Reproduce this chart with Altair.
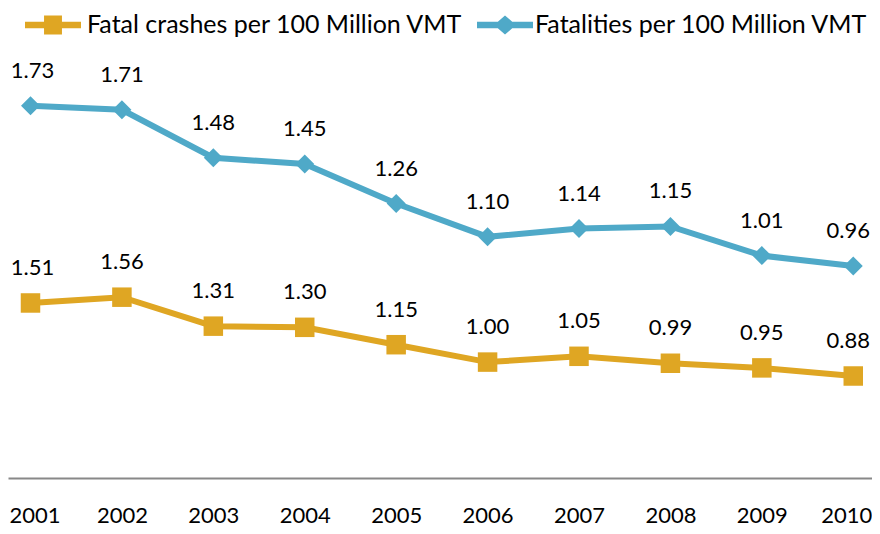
import altair as alt
import pandas as pd

years = [2001, 2002, 2003, 2004, 2005, 2006, 2007, 2008, 2009, 2010]
crashes = [1.51, 1.56, 1.31, 1.30, 1.15, 1.00, 1.05, 0.99, 0.95, 0.88]
fatalities = [1.73, 1.71, 1.48, 1.45, 1.26, 1.10, 1.14, 1.15, 1.01, 0.96]
series_names = ["Fatal crashes per 100 Million VMT", "Fatalities per 100 Million VMT"]
colors = ["#DFA623", "#4FA9C8"]

FONT = "Lato"
PLOT_W, PLOT_H = 864, 470
X_DOMAIN = [2000.754, 2010.205]

SQ_PATH = ("M-1,-0.116L1,-0.116L1,0.116L-1,0.116Z "
           "M-0.32,-0.34L0.32,-0.34L0.32,0.34L-0.32,0.34Z")
DIA_PATH = ("M-1,-0.116L1,-0.116L1,0.116L-1,0.116Z "
            "M0,-0.34L0.39,0L0,0.34L-0.39,0Z")


def make_series(values, name, color, shape, size, ydomain, legend_path, legend_x, label_offset):
    df = pd.DataFrame({
        "year": years,
        "value": values,
        "series": [name] * len(years),
        "label": [f"{v:.2f}" for v in values],
    })
    base = alt.Chart(df)
    x = alt.X(
        "year:Q",
        scale=alt.Scale(domain=X_DOMAIN, nice=False, zero=False),
        axis=alt.Axis(
            values=years, format="d", title=None, grid=False, ticks=False,
            domainColor="#888888", domainWidth=2,
            labelFont=FONT, labelFontSize=22, labelColor="black",
            labelPadding=37, labelBaseline="middle", labelFlush=False,
            labelOffset={"condition": [
                {"test": "datum.value == 2010", "value": -7},
                {"test": "datum.value == 2001", "value": 4},
            ], "value": 0},
        ),
    )
    y = alt.Y("value:Q", scale=alt.Scale(domain=ydomain, nice=False, zero=False), axis=None)
    line = base.mark_line(color=color, strokeWidth=6).encode(x=x, y=y)
    pts = base.mark_point(shape=shape, filled=True, size=size, opacity=1, strokeWidth=0).encode(
        x=x, y=y,
        color=alt.Color(
            "series:N",
            scale=alt.Scale(domain=[name], range=[color]),
            legend=alt.Legend(
                title=None, orient="none", legendX=legend_x, legendY=-11,
                symbolType=legend_path, symbolSize=3136, symbolStrokeWidth=0,
                labelFont=FONT, labelFontSize=25, labelColor="black",
                labelOffset=label_offset, padding=0, labelLimit=600,
            ),
        ),
    )
    txt = base.transform_filter("datum.year > 2001 && datum.year < 2010").mark_text(
        font=FONT, fontSize=22, color="black", baseline="middle", align="center", dy=-35
    ).encode(x=x, y=y, text="label:N")
    txt_first = base.transform_filter("datum.year == 2001").mark_text(
        font=FONT, fontSize=22, color="black", baseline="middle", align="center", dy=-35, dx=2
    ).encode(x=x, y=y, text="label:N")
    txt_last = base.transform_filter("datum.year == 2010").mark_text(
        font=FONT, fontSize=22, color="black", baseline="middle", align="center", dy=-35, dx=-5
    ).encode(x=x, y=y, text="label:N")
    return alt.layer(line, pts, txt, txt_first, txt_last)


orange = make_series(crashes, series_names[0], colors[0], "square", 380,
                     [0, 4.055], SQ_PATH, 17, 6)
blue = make_series(fatalities, series_names[1], colors[1], "diamond", 361,
                   [-0.058, 2.199], DIA_PATH, 469, 2)

chart = (
    alt.layer(orange, blue)
    .resolve_scale(y="independent", color="independent")
    .properties(
        width=PLOT_W, height=PLOT_H,
        padding={"left": 0, "top": 0, "right": 0, "bottom": 48},
        autosize=alt.AutoSizeParams(type="none"),
    )
    .configure_view(stroke=None)
)

chart.save("out.html", embed_options={"renderer": "svg", "actions": False})
